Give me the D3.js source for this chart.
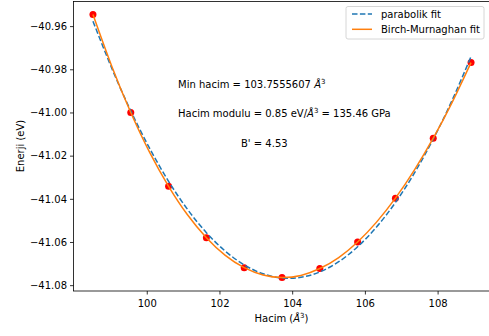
<!DOCTYPE html>
<html lang="tr">
<head>
<meta charset="UTF-8">
<title>Birch-Murnaghan fit</title>
<script src="https://d3js.org/d3.v7.min.js"></script>
<style>
  body { margin: 0; background: #fff; }
  svg { display: block; font-family: "DejaVu Sans", sans-serif; }
  text { fill: #000; }
</style>
</head>
<body>
<svg width="489" height="336"></svg>
<script>
// measured points
const volumes = [98.52, 99.56, 100.60, 101.64, 102.68, 103.72, 104.76, 105.80, 106.84, 107.88, 108.92];
const energies = [-40.9546, -41.0000, -41.0342, -41.0580, -41.0719, -41.0765, -41.0723, -41.0600, -41.0397, -41.0119, -40.9769];

// fitted curves
const fitV = [98.52, 99.04, 99.56, 100.08, 100.60, 101.12, 101.64, 102.16, 102.68, 103.20, 103.72,
              104.24, 104.76, 105.28, 105.80, 106.32, 106.84, 107.36, 107.88, 108.40, 108.92];
const parabolaE = [-40.95773, -40.97959, -40.99924, -41.01666, -41.03188, -41.04488, -41.05567, -41.06424,
                   -41.07059, -41.07473, -41.07666, -41.07637, -41.07387, -41.06914, -41.06221, -41.05306,
                   -41.04170, -41.02812, -41.01232, -40.99431, -40.97409];
const birchE = [-40.9546, -40.9787, -41.0000, -41.0185, -41.0342, -41.0474, -41.0580, -41.0662, -41.0719,
                -41.0753, -41.0765, -41.0755, -41.0723, -41.0672, -41.0600, -41.0508, -41.0397, -41.0267,
                -41.0119, -40.9953, -40.9769];

const xTicks = [100, 102, 104, 106, 108];
const yTicks = [-40.96, -40.98, -41.00, -41.02, -41.04, -41.06, -41.08];
const legendLabels = ["parabolik fit", "Birch-Murnaghan fit"];

const svg = d3.select("svg");
const mLeft = 73.5, mRight = 490.5, mTop = 1.5, mBottom = 291;

const x = d3.scaleLinear().domain([97.985, 109.455]).range([mLeft, mRight]);
const y = d3.scaleLinear().domain([-41.0827, -40.9486]).range([mBottom, mTop]);

const fmt = v => d3.format(".2f")(v).replace("-", "\u2212");

// axes
const xAxis = svg.append("g")
    .attr("transform", `translate(0,${mBottom})`)
    .call(d3.axisBottom(x).tickValues(xTicks).tickSize(3.5).tickPadding(5).tickFormat(d3.format("d")));
const yAxis = svg.append("g")
    .attr("transform", `translate(${mLeft},0)`)
    .call(d3.axisLeft(y).tickValues(yTicks).tickSize(3.5).tickPadding(3).tickFormat(fmt));

[xAxis, yAxis].forEach(g => {
    g.select(".domain").remove();
    g.selectAll(".tick line").attr("stroke", "#000").attr("stroke-width", 0.8);
    g.selectAll(".tick text").attr("font-size", 10).attr("font-family", "DejaVu Sans").attr("fill", "#000");
});

// frame
svg.append("rect")
    .attr("x", mLeft).attr("y", mTop)
    .attr("width", mRight - mLeft).attr("height", mBottom - mTop)
    .attr("fill", "none").attr("stroke", "#000").attr("stroke-width", 0.8);

const plot = svg.append("g");

// points
plot.selectAll("circle")
    .data(volumes.map((v, i) => ({ v, e: energies[i] })))
    .enter()
    .append("circle")
    .attr("cx", d => x(d.v))
    .attr("cy", d => y(d.e))
    .attr("r", 3.5)
    .attr("fill", "#ff0000");

const line = d3.line()
    .x(d => x(d[0]))
    .y(d => y(d[1]))
    .curve(d3.curveNatural);

plot.append("path")
    .datum(fitV.map((v, i) => [v, parabolaE[i]]))
    .attr("fill", "none")
    .attr("stroke", "#1f77b4")
    .attr("stroke-width", 1.5)
    .attr("stroke-dasharray", "5.5,2.4")
    .attr("d", line);

plot.append("path")
    .datum(fitV.map((v, i) => [v, birchE[i]]))
    .attr("fill", "none")
    .attr("stroke", "#ff7f0e")
    .attr("stroke-width", 1.5)
    .attr("d", line);

// annotations
function angstrom(t, before, after) {
    t.append("tspan").text(before);
    t.append("tspan").attr("font-style", "italic").text("\u00c5");
    t.append("tspan").attr("font-size", 7).attr("dy", -4).text("3");
    if (after) t.append("tspan").attr("dy", 4).text(after);
}
angstrom(svg.append("text").attr("x", 178).attr("y", 87.5).attr("font-size", 10), "Min hacim = 103.7555607 ");
angstrom(svg.append("text").attr("x", 178).attr("y", 117).attr("font-size", 10), "Hacim modulu = 0.85 eV/", " = 135.46 GPa");
svg.append("text").attr("x", 241).attr("y", 146.5).attr("font-size", 10).text("B' = 4.53");

// axis labels
const xl = svg.append("text").attr("x", 281.5).attr("y", 321.5).attr("font-size", 10).attr("text-anchor", "middle");
angstrom(xl, "Hacim (", ")");
svg.append("text")
    .attr("transform", "translate(24,146) rotate(-90)")
    .attr("font-size", 10)
    .attr("text-anchor", "middle")
    .text("Enerji (eV)");

// legend
const lg = svg.append("g");
lg.append("rect")
    .attr("x", 346).attr("y", 6.5).attr("width", 138).attr("height", 32.5)
    .attr("rx", 2).attr("fill", "#fff").attr("fill-opacity", 0.8)
    .attr("stroke", "#cccccc").attr("stroke-width", 0.8);
const items = [
    { label: legendLabels[0], color: "#1f77b4", dash: "5.5,2.4" },
    { label: legendLabels[1], color: "#ff7f0e", dash: null }
];
items.forEach((d, i) => {
    const yy = 14 + i * 15.3;
    lg.append("line")
        .attr("x1", 352).attr("x2", 372).attr("y1", yy).attr("y2", yy)
        .attr("stroke", d.color).attr("stroke-width", 1.5)
        .attr("stroke-dasharray", d.dash);
    lg.append("text")
        .attr("x", 381).attr("y", yy + 3.6)
        .attr("font-size", 10)
        .text(d.label);
});
</script>
</body>
</html>
